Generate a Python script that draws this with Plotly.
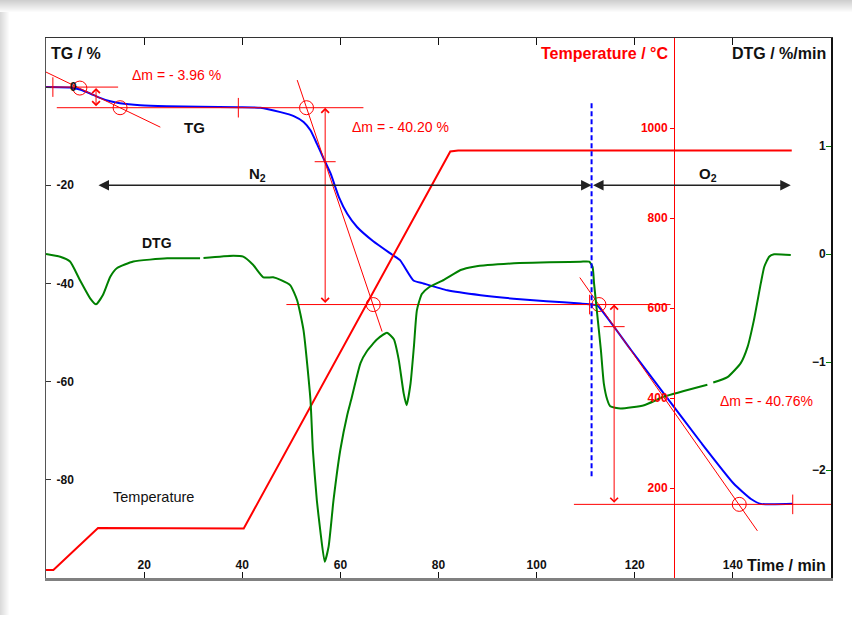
import plotly.graph_objects as go

# ---------------- data ----------------
time_temp = [0, 1.5, 10.6, 25, 40.3, 82.4, 84, 100, 120, 140, 146, 147.5, 152]
temperature = [18, 18, 111, 110, 110, 948, 950, 950, 950, 950, 949, 950, 950]

time_tg = [0, 4.9, 6.9, 9.0, 11.0, 13.1, 15.1, 19.2, 24.6, 31.4, 39.1, 43.7, 47.8,
           50.5, 52.5, 53.9, 55.2, 56.6, 58.0, 59.7, 61.4, 63.4, 66.7, 70.8, 72.2,
           74.9, 76.9, 81.8, 88.6, 95.3, 102.0, 109.0, 111.4, 112.4, 119.2, 125.9,
           133.5, 140.2, 143.7, 145.7, 152.2]
tg = [0, -0.1, -0.5, -1.3, -2.2, -2.9, -3.3, -3.7, -3.9, -4.0, -4.1, -4.2, -5.1,
      -5.9, -7.1, -8.8, -11.5, -14.6, -17.6, -22.4, -25.8, -28.5, -31.4, -34.3, -35.3,
      -39.4, -40.0, -41.4, -42.4, -43.1, -43.6, -44.1, -44.3, -44.5, -53.5, -62.4,
      -72.4, -80.8, -83.9, -84.9, -84.9]

time_dtg = [0, 2.9, 4.9, 6.9, 9.0, 10.2, 11.6, 13.1, 14.5, 17.8, 24.7, 31.4, None, 32.1,
            38.2, 40.2, 42.2, 44.3, 46.3, 47.8, 49.8, 51.2, 52.5, 53.9, 54.4, 55.2,
            55.9, 56.8, 57.6, 58.6, 60.0, 61.4, 62.2, 64.1, 65.4, 67.5, 69.5, 70.9,
            71.9, 72.9, 73.5, 74.3, 75.0, 75.6, 76.6, 78.0, 81.1, 84.5, 87.2, 95.4,
            109.0, 110.7, 111.4, 111.7, 112.4, 113.1, 113.7, 114.4, 115.0, 117.1,
            121.9, 126.0, 134.8, None, 136.0, 138.9, 141.6, 143.0, 144.3, 145.7,
            146.4, 147.4, 148.4, 151.8]
dtg = [0.0, -0.025, -0.07, -0.24, -0.41, -0.466, -0.38, -0.21, -0.13, -0.07, -0.04, -0.04, None, -0.037,
       -0.016, -0.025, -0.10, -0.216, -0.216, -0.24, -0.29, -0.43, -0.71, -1.35, -1.82, -2.28,
       -2.56, -2.85, -2.71, -2.28, -1.81, -1.49, -1.35, -1.01, -0.90, -0.79, -0.73, -0.79,
       -0.98, -1.29, -1.40, -1.20, -0.85, -0.52, -0.37, -0.31, -0.24, -0.148, -0.117, -0.086,
       -0.071, -0.071, -0.118, -0.27, -0.58, -0.89, -1.20, -1.35, -1.41, -1.43,
       -1.40, -1.32, -1.21, None, -1.19, -1.14, -1.01, -0.86, -0.61, -0.27,
       -0.118, -0.025, -0.003, -0.01]

# tick values / labels
time_ticks = [20, 40, 60, 80, 100, 120, 140]
tg_ticks = [0, -20, -40, -60, -80]
tg_ticktext = ["\u2007\u20070", "-20", "-40", "-60", "-80"]
temp_ticks = [200, 400, 600, 800, 1000]
dtg_ticks = [1, 0, -1, -2]

# step-evaluation constructs (time, TG)
step_levels = [(0, 14.7, 0.0), (2.2, 64.7, -4.2), (49.0, 127.3, -44.3), (107.6, 160, -85.0)]
tangents = [(0, 3.06, 23.3, -8.16), (51.2, 1.43, 68.5, -49.8), (108.8, -38.8, 145.0, -90.4)]
onset_t = [6.9, 15.1, 53.1, 66.7, 112.7, 141.3]
onset_tg = [-0.2, -4.2, -4.2, -44.3, -44.3, -85.0]
limit_t = [1.4, 39.2, 110.8, 152.2]
limit_tg = [0.0, -4.2, -44.3, -85.0]
mid_t = [56.9, 115.8]
mid_tg = [-15.2, -48.8]
step_arrows = [(10.2, -0.2, -4.2), (56.9, -4.2, -44.3), (115.8, -44.3, -85.0)]
step_labels = ["Δm = - 3.96 %", "Δm = - 40.20 %", "Δm = - 40.76%"]
step_label_pos = [(26.5, 2.45), (72.2, -8.2), (146.9, -63.9)]
gas_switch_t = 111.2
gas_switch_tg = [-3.3, -79.8]
gas_arrows = [(10.4, 111.2, -20.0), (111.2, 151.8, -20.0)]

FONT = "Liberation Sans, Arial, sans-serif"
RED = "#ff0000"
BLUE = "#0000ff"
GREEN = "#008000"

fig = go.Figure()

# main curves
fig.add_trace(go.Scatter(x=time_tg, y=tg, mode="lines", line=dict(color=BLUE, width=2, shape="spline", smoothing=0.5),
                         xaxis="x", yaxis="y", hoverinfo="skip"))

# evaluation lines
for (t0, t1, g) in step_levels:
    fig.add_trace(go.Scatter(x=[t0, t1], y=[g, g], mode="lines", line=dict(color=RED, width=1),
                             xaxis="x", yaxis="y", hoverinfo="skip"))
for (t0, g0, t1, g1) in tangents:
    fig.add_trace(go.Scatter(x=[t0, t1], y=[g0, g1], mode="lines", line=dict(color=RED, width=1),
                             xaxis="x", yaxis="y", hoverinfo="skip"))
fig.add_trace(go.Scatter(x=onset_t, y=onset_tg, mode="markers",
                         marker=dict(symbol="circle-open", size=14, color=RED, line=dict(width=1, color=RED)),
                         xaxis="x", yaxis="y", hoverinfo="skip"))
fig.add_trace(go.Scatter(x=limit_t, y=limit_tg, mode="markers",
                         marker=dict(symbol="line-ns", size=14, color=RED, line=dict(width=1, color=RED)),
                         xaxis="x", yaxis="y", hoverinfo="skip"))
fig.add_trace(go.Scatter(x=mid_t, y=mid_tg, mode="markers",
                         marker=dict(symbol="line-ew", size=15, color=RED, line=dict(width=1, color=RED)),
                         xaxis="x", yaxis="y", hoverinfo="skip"))

# temperature
fig.add_trace(go.Scatter(x=time_temp, y=temperature, mode="lines", line=dict(color=RED, width=2),
                         xaxis="x", yaxis="y2", hoverinfo="skip"))
# DTG
fig.add_trace(go.Scatter(x=time_dtg, y=dtg, mode="lines", line=dict(color=GREEN, width=2, shape="spline", smoothing=0.5),
                         xaxis="x", yaxis="y3", hoverinfo="skip"))
# gas switch (dashed)
fig.add_trace(go.Scatter(x=[gas_switch_t, gas_switch_t], y=gas_switch_tg, mode="lines",
                         line=dict(color=BLUE, width=2, dash="5px,3px"),
                         xaxis="x2", yaxis="y", hoverinfo="skip"))

annotations = []
for (t, g0, g1) in step_arrows:
    annotations.append(dict(x=t, y=g0, ax=t, ay=g1, xref="x", yref="y", axref="x", ayref="y",
                            text="", showarrow=True, arrowside="end+start", arrowhead=4, startarrowhead=4,
                            arrowsize=1.5, startarrowsize=1.5, arrowwidth=1, arrowcolor=RED,
                            standoff=0, startstandoff=0))
for (t0, t1, g) in gas_arrows:
    annotations.append(dict(x=t1, y=g, ax=t0, ay=g, xref="x", yref="y", axref="x", ayref="y",
                            text="", showarrow=True, arrowside="end+start", arrowhead=2, startarrowhead=2,
                            arrowsize=1.4, startarrowsize=1.4, arrowwidth=1.5, arrowcolor="#222222",
                            standoff=0, startstandoff=0))
for txt, (t, g) in zip(step_labels, step_label_pos):
    annotations.append(dict(x=t, y=g, xref="x", yref="y", text=txt, showarrow=False,
                            font=dict(family=FONT, size=14, color=RED)))

labels = [("TG", 30.2, -8.2, 15, "bold"), ("DTG", 22.7, -31.8, 14, "bold"),
          ("N<sub>2</sub>", 43.1, -17.8, 15, "bold"), ("O<sub>2</sub>", 134.9, -17.8, 15, "bold"),
          ("Temperature", 22.0, -83.4, 14.5, "normal")]
for txt, t, g, s, w in labels:
    annotations.append(dict(x=t, y=g, xref="x", yref="y", text=txt, showarrow=False,
                            font=dict(family=FONT, size=s, color="#111111", weight=w)))

# axis titles
titles = [("TG / %", 0.0038, 0.9722, "left", "#111111"),
          ("Temperature / °C", 0.7949, 0.9722, "right", RED),
          ("DTG / %/min", 0.9962, 0.9722, "right", "#111111"),
          ("Time / min", 0.9962, 0.024, "right", "#111111")]
for txt, x, y, xa, c in titles:
    annotations.append(dict(x=x, y=y, xref="paper", yref="paper", text=txt, showarrow=False,
                            xanchor=xa, yanchor="middle", font=dict(family=FONT, size=16, color=c, weight="bold")))

# card shadow (decoration)
shapes = []
for i in range(12):
    shapes.append(dict(type="rect", xref="paper", yref="paper", layer="below",
                       x0=-0.0586, x1=1.0318, y0=(578 - (12 - i)) / 540, y1=578 / 540,
                       line=dict(width=0), fillcolor="rgba(0,0,0,0.016)"))
for i in range(9):
    shapes.append(dict(type="rect", xref="paper", yref="paper", layer="below",
                       x0=-46 / 785, x1=(9 - i - 46) / 785, y0=(578 - 619) / 540, y1=(578 - 12) / 540,
                       line=dict(width=0), fillcolor="rgba(0,0,0,0.016)"))

tickfont = dict(family=FONT, size=12, color="#111111", weight="bold")

fig.update_layout(
    width=852, height=615,
    margin=dict(l=46, r=21, t=38, b=37),
    paper_bgcolor="white", plot_bgcolor="white",
    showlegend=False,
    font=dict(family=FONT),
    xaxis=dict(range=[0, 160], showgrid=False, zeroline=False, showline=True,
               linecolor="#808080", linewidth=2.5, ticks="inside", ticklen=6, tickwidth=1.2,
               tickcolor="#111111", tickvals=time_ticks, ticklabelposition="inside", tickfont=tickfont),
    xaxis2=dict(range=[0, 160], overlaying="x", side="top", anchor="y", showgrid=False, zeroline=False,
                showline=True, linecolor="#333333", linewidth=1.2, ticks="inside", ticklen=7,
                tickwidth=1.2, tickcolor="#111111", tickvals=time_ticks, showticklabels=False),
    yaxis=dict(range=[-100, 10], showgrid=False, zeroline=False, showline=True,
               linecolor="#555555", linewidth=1, ticks="inside", ticklen=5, tickcolor="#333333",
               tickvals=tg_ticks, ticktext=tg_ticktext, ticklabelposition="inside",
               ticklabelstandoff=5, tickfont=tickfont),
    yaxis2=dict(range=[0, 1200], overlaying="y", anchor="free", position=0.8, side="left",
                showgrid=False, zeroline=False, showline=True, linecolor=RED, linewidth=1,
                ticks="outside", ticklen=4, tickcolor=RED, tickvals=temp_ticks,
                tickfont=dict(family=FONT, size=12, color=RED, weight="bold")),
    yaxis3=dict(range=[-3, 2], overlaying="y", anchor="x", side="right", showgrid=False,
                zeroline=False, showline=True, linecolor="#111111", linewidth=1.5,
                ticks="inside", ticklen=5, tickcolor=GREEN, tickvals=dtg_ticks,
                ticklabelposition="inside", tickfont=tickfont),
    annotations=annotations,
    shapes=shapes,
)

fig.write_html("out.html", config={"displayModeBar": False},
               post_script="document.body.style.margin='0px';")
